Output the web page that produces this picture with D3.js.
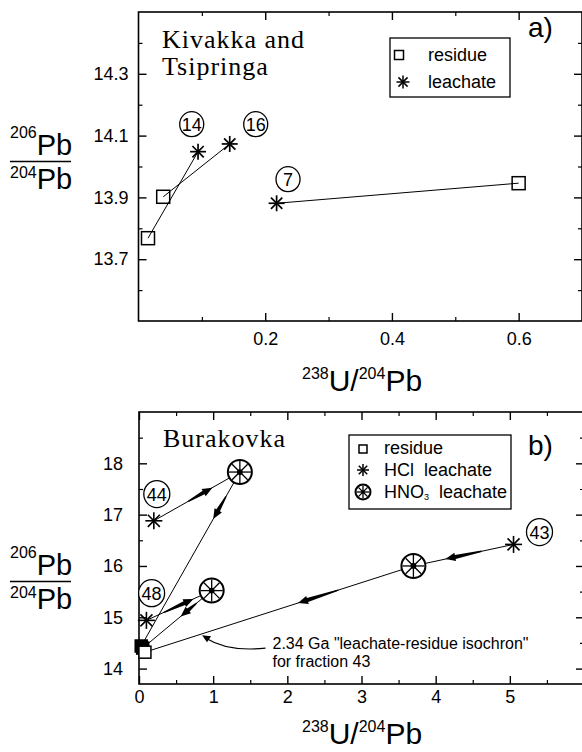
<!DOCTYPE html>
<html>
<head>
<meta charset="utf-8">
<script src="https://cdn.jsdelivr.net/npm/d3@7"></script>
<style>
  body { margin: 0; background: #fff; }
  text { font-family: "Liberation Sans", Arial, sans-serif; fill: #000; }
  .serif { font-family: "Liberation Serif", "Times New Roman", serif; }
</style>
</head>
<body>
<script>
var SVG_WIDTH = 582;
var SVG_HEIGHT = 752;

// ---- panel a data (Kivakka and Tsipringa)
var a_fractions = ["14", "16", "7"];
var a_residue_x = [0.015, 0.039, 0.600];
var a_residue_y = [13.768, 13.902, 13.946];
var a_leachate_x = [0.094, 0.144, 0.218];
var a_leachate_y = [14.048, 14.073, 13.881];
var a_label_x = [0.084, 0.185, 0.236];
var a_label_y = [14.137, 14.137, 13.959];
var a_x_major = [0.2, 0.4, 0.6];
var a_x_minor = [0.1, 0.3, 0.5];
var a_y_major = [13.7, 13.9, 14.1, 14.3];
var a_y_minor = [13.6, 13.8, 14.0, 14.2, 14.4];

// ---- panel b data (Burakovka)
var b_fractions = ["44", "48", "43"];
var b_residue_x = [0.03, 0.05, 0.08];
var b_residue_y = [14.44, 14.40, 14.32];
var b_hcl_x = [0.20, 0.10, 5.05];
var b_hcl_y = [16.88, 14.94, 16.42];
var b_hno3_x = [1.36, 0.98, 3.70];
var b_hno3_y = [17.83, 15.52, 16.00];
var b_label_x = [0.24, 0.17, 5.40];
var b_label_y = [17.40, 15.47, 16.66];
// arrow positions as fractions along HCl->HNO3 and HNO3->residue legs
var b_arrow_leg1 = [[0.40, 0.68], [0.27, 0.72], [0.32, 0.68]];
var b_arrow_leg2 = [[0.14, 0.27], [0.22, 0.45], [0.28, 0.43]];
var b_x_major = [0, 1, 2, 3, 4, 5];
var b_x_minor = [0.5, 1.5, 2.5, 3.5, 4.5, 5.5];
var b_y_major = [14, 15, 16, 17, 18];
var b_y_minor = [14.5, 15.5, 16.5, 17.5, 18.5];

var svg = d3.select("body").append("svg")
  .attr("width", SVG_WIDTH)
  .attr("height", SVG_HEIGHT);

svg.append("rect").attr("width", SVG_WIDTH).attr("height", SVG_HEIGHT).attr("fill", "#fff");


function drawFrame(x, y, xMajor, xMinor, yMajor, yMinor, xPad, yPad, xFormat, yFormat) {
  var g = svg.append("g");
  var x0 = x.range()[0], x1 = x.range()[1];
  var y0 = y.range()[0], y1 = y.range()[1];

  var axes = [
    { ax: d3.axisBottom(x), t: "translate(0," + y0 + ")", vals: xMajor, minor: xMinor, fmt: xFormat, pad: xPad },
    { ax: d3.axisTop(x), t: "translate(0," + y1 + ")", vals: xMajor, minor: xMinor, fmt: null },
    { ax: d3.axisLeft(y), t: "translate(" + x0 + ",0)", vals: yMajor, minor: yMinor, fmt: yFormat, pad: yPad },
    { ax: d3.axisRight(y), t: "translate(" + x1 + ",0)", vals: yMajor, minor: yMinor, fmt: null }
  ];

  axes.forEach(function (a) {
    var maj = a.ax.tickValues(a.vals).tickSize(-8).tickPadding(a.pad || 0)
      .tickFormat(a.fmt ? a.fmt : function () { return ""; });
    var gm = g.append("g").attr("transform", a.t).call(maj);
    gm.select(".domain").remove();
    gm.selectAll("line").attr("stroke", "#000").attr("stroke-width", 1.4);
    gm.selectAll("text").style("font-size", "18px").attr("fill", "#000");

    var mn = a.ax.tickValues(a.minor).tickSize(-4).tickFormat(function () { return ""; });
    var gn = g.append("g").attr("transform", a.t).call(mn);
    gn.select(".domain").remove();
    gn.selectAll("line").attr("stroke", "#000").attr("stroke-width", 1.2);
  });

  g.append("rect")
    .attr("x", x0).attr("y", y1)
    .attr("width", x1 - x0).attr("height", y0 - y1)
    .attr("fill", "none").attr("stroke", "#000").attr("stroke-width", 1.6);
}

function drawSquare(g, cx, cy, s, fill) {
  g.append("rect")
    .attr("x", cx - s / 2).attr("y", cy - s / 2)
    .attr("width", s).attr("height", s)
    .attr("fill", fill || "none").attr("stroke", "#000").attr("stroke-width", 1.5);
}

function drawStar(g, cx, cy, r, w) {
  for (var k = 0; k < 4; k++) {
    var ang = k * Math.PI / 4;
    g.append("line")
      .attr("x1", cx - r * Math.cos(ang)).attr("y1", cy - r * Math.sin(ang))
      .attr("x2", cx + r * Math.cos(ang)).attr("y2", cy + r * Math.sin(ang))
      .attr("stroke", "#000").attr("stroke-width", w || 1.5);
  }
}

function drawWheel(g, cx, cy, r) {
  g.append("circle").attr("cx", cx).attr("cy", cy).attr("r", r)
    .attr("fill", "#fff").attr("stroke", "#000").attr("stroke-width", 2);
  drawStar(g, cx, cy, r - 1, 1.3);
  g.append("circle").attr("cx", cx).attr("cy", cy).attr("r", r * 0.24).attr("fill", "#000");
}

function drawTag(g, cx, cy, txt, r) {
  g.append("ellipse").attr("cx", cx).attr("cy", cy).attr("rx", r - 0.5).attr("ry", r)
    .attr("fill", "#fff").attr("stroke", "#000").attr("stroke-width", 1.3);
  g.append("text").attr("x", cx).attr("y", cy + 6.5)
    .attr("text-anchor", "middle").style("font-size", "18px").text(txt);
}

function drawArrow(g, p0, p1, f1, f2) {
  var sx = p0[0] + (p1[0] - p0[0]) * f1, sy = p0[1] + (p1[1] - p0[1]) * f1;
  var tx = p0[0] + (p1[0] - p0[0]) * f2, ty = p0[1] + (p1[1] - p0[1]) * f2;
  var len = Math.hypot(tx - sx, ty - sy);
  var ux = (tx - sx) / len, uy = (ty - sy) / len;
  var nx = -uy, ny = ux;
  var h = 10, bx = tx - ux * h, by = ty - uy * h;
  var pts = [
    [sx + nx * 0.7, sy + ny * 0.7],
    [bx + nx * 2.0, by + ny * 2.0],
    [bx + nx * 4.2, by + ny * 4.2],
    [tx, ty],
    [bx - nx * 4.2, by - ny * 4.2],
    [bx - nx * 2.0, by - ny * 2.0],
    [sx - nx * 0.7, sy - ny * 0.7]
  ];
  g.append("path").attr("d", d3.line()(pts) + "Z").attr("fill", "#000");
}

function drawYLabel(xx, yNum, yLine, yDen) {
  var t1 = svg.append("text").attr("x", xx).attr("y", yNum);
  t1.append("tspan").style("font-size", "16px").attr("dy", -17).text("206");
  t1.append("tspan").style("font-size", "29px").attr("dy", 17).text("Pb");
  svg.append("line").attr("x1", xx).attr("x2", xx + 61).attr("y1", yLine).attr("y2", yLine)
    .attr("stroke", "#000").attr("stroke-width", 1.6);
  var t2 = svg.append("text").attr("x", xx).attr("y", yDen);
  t2.append("tspan").style("font-size", "16px").attr("dy", -11).text("204");
  t2.append("tspan").style("font-size", "29px").attr("dy", 11).text("Pb");
}

function drawXLabel(xx, yy) {
  var t = svg.append("text").attr("x", xx).attr("y", yy);
  t.append("tspan").style("font-size", "16px").attr("dy", -12).text("238");
  t.append("tspan").style("font-size", "30px").attr("dy", 12).text("U/");
  t.append("tspan").style("font-size", "16px").attr("dy", -12).text("204");
  t.append("tspan").style("font-size", "30px").attr("dy", 12).text("Pb");
}


// ================= panel a =================
var xA = d3.scaleLinear().domain([0, 0.7]).range([138.5, 582]);
var yA = d3.scaleLinear().domain([13.5, 14.5]).range([321, 12]);

drawFrame(xA, yA, a_x_major, a_x_minor, a_y_major, a_y_minor, 11, 10,
  d3.format(".1f"), d3.format(".1f"));

var gA = svg.append("g");
a_fractions.forEach(function (f, i) {
  gA.append("line")
    .attr("x1", xA(a_residue_x[i])).attr("y1", yA(a_residue_y[i]))
    .attr("x2", xA(a_leachate_x[i])).attr("y2", yA(a_leachate_y[i]))
    .attr("stroke", "#000").attr("stroke-width", 1);
});
a_fractions.forEach(function (f, i) {
  drawSquare(gA, xA(a_residue_x[i]), yA(a_residue_y[i]), 13);
  drawStar(gA, xA(a_leachate_x[i]), yA(a_leachate_y[i]), 8, 1.7);
  drawTag(gA, xA(a_label_x[i]), yA(a_label_y[i]), f, 12.5);
});

svg.append("text").attr("class", "serif").attr("x", 162).attr("y", 48)
  .style("font-size", "26px").style("letter-spacing", "1px").text("Kivakka and");
svg.append("text").attr("class", "serif").attr("x", 162).attr("y", 75)
  .style("font-size", "26px").style("letter-spacing", "1px").text("Tsipringa");

// legend a
svg.append("rect").attr("x", 390).attr("y", 38).attr("width", 120).attr("height", 59)
  .attr("fill", "#fff").attr("stroke", "#000").attr("stroke-width", 1.3);
drawSquare(svg, 399, 55, 9);
svg.append("text").attr("x", 428).attr("y", 61).style("font-size", "18px").text("residue");
drawStar(svg, 403, 82, 6.5, 1.5);
svg.append("text").attr("x", 428).attr("y", 88).style("font-size", "18px").text("leachate");

svg.append("text").attr("x", 528).attr("y", 37).style("font-size", "28px").text("a)");

drawYLabel(10, 155, 161.5, 189);
drawXLabel(302, 391);


// ================= panel b =================
var xB = d3.scaleLinear().domain([0, 6]).range([139, 584]);
var yB = d3.scaleLinear().domain([13.7, 19]).range([684, 412]);

drawFrame(xB, yB, b_x_major, b_x_minor, b_y_major, b_y_minor, 6, 16,
  d3.format("d"), d3.format("d"));

var gB = svg.append("g");
b_fractions.forEach(function (f, i) {
  var pH = [xB(b_hcl_x[i]), yB(b_hcl_y[i])];
  var pN = [xB(b_hno3_x[i]), yB(b_hno3_y[i])];
  var pR = [xB(b_residue_x[i]), yB(b_residue_y[i])];
  gB.append("path").attr("d", d3.line()([pH, pN, pR]))
    .attr("fill", "none").attr("stroke", "#000").attr("stroke-width", 1);
  drawArrow(gB, pH, pN, b_arrow_leg1[i][0], b_arrow_leg1[i][1]);
  drawArrow(gB, pN, pR, b_arrow_leg2[i][0], b_arrow_leg2[i][1]);
});
b_fractions.forEach(function (f, i) {
  // the two back residues overlap into a dark blob in the original
  drawSquare(gB, xB(b_residue_x[i]), yB(b_residue_y[i]), 12, i < 2 ? "#000" : "#fff");
  drawStar(gB, xB(b_hcl_x[i]), yB(b_hcl_y[i]), 8.5, 1.6);
  drawWheel(gB, xB(b_hno3_x[i]), yB(b_hno3_y[i]), 12);
  drawTag(gB, xB(b_label_x[i]), yB(b_label_y[i]), f, 13.5);
});

// isochron annotation
var ann_x = 1.80, ann_y = 14.38;
var ann_tip = [0.85, 14.65];
svg.append("text").attr("x", xB(ann_x)).attr("y", yB(ann_y)).style("font-size", "16px")
  .text("2.34 Ga \"leachate-residue isochron\"");
svg.append("text").attr("x", xB(ann_x)).attr("y", yB(ann_y) + 18).style("font-size", "16px")
  .text("for fraction 43");
var cs = [xB(ann_x) - 7, yB(ann_y) - 1];
var ct = [xB(ann_tip[0]), yB(ann_tip[1])];
svg.append("path")
  .attr("d", "M" + cs[0] + "," + cs[1] + " Q" + (ct[0] + 26) + "," + (cs[1] + 4) + " " + (ct[0] + 4) + "," + (ct[1] + 3))
  .attr("fill", "none").attr("stroke", "#000").attr("stroke-width", 1.1);
svg.append("path")
  .attr("d", d3.line()([[ct[0], ct[1]], [ct[0] + 9, ct[1] + 1], [ct[0] + 5, ct[1] + 7]]) + "Z")
  .attr("fill", "#000");

svg.append("text").attr("class", "serif").attr("x", 163).attr("y", 447)
  .style("font-size", "26px").style("letter-spacing", "1px").text("Burakovka");

// legend b
svg.append("rect").attr("x", 349).attr("y", 435).attr("width", 162).attr("height", 74)
  .attr("fill", "#fff").attr("stroke", "#000").attr("stroke-width", 1.3);
drawSquare(svg, 363, 449, 8);
svg.append("text").attr("x", 384).attr("y", 454).style("font-size", "18px").text("residue");
drawStar(svg, 363, 470, 6, 1.5);
svg.append("text").attr("x", 384).attr("y", 476).style("font-size", "18px").html("HCl&#160; leachate");
drawWheel(svg, 363, 492, 7.5);
var t3 = svg.append("text").attr("x", 384).attr("y", 498).style("font-size", "18px");
t3.append("tspan").text("HNO");
t3.append("tspan").style("font-size", "9px").attr("dy", 2).text("3");
t3.append("tspan").attr("dy", -2).html("&#160; leachate");

svg.append("text").attr("x", 528).attr("y", 455).style("font-size", "28px").text("b)");

drawYLabel(10, 575, 581.5, 609);
drawXLabel(302, 744);
</script>
</body>
</html>
